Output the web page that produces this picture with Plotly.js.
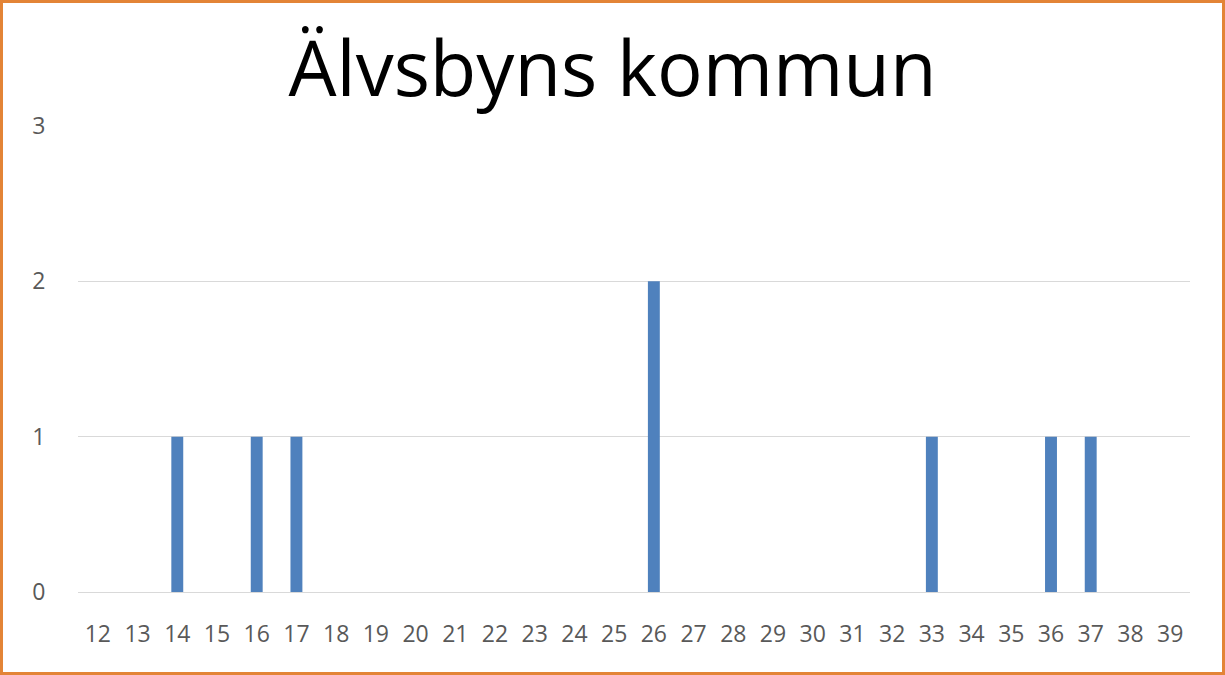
<!DOCTYPE html>
<html><head><meta charset="utf-8">
<script src="https://cdn.plot.ly/plotly-3.0.1.min.js"></script>
<style>
html,body{margin:0;padding:0;background:#fff;}
#wrap{position:relative;width:1225px;height:675px;}
#chart{position:absolute;left:0;top:0;width:1225px;height:675px;}
#frame{position:absolute;left:0;top:0;width:1225px;height:675px;box-sizing:border-box;border:3px solid #E38436;pointer-events:none;}
</style></head>
<body>
<div id="wrap"><div id="chart"></div><div id="frame"></div></div>
<script>
const categories = ["12","13","14","15","16","17","18","19","20","21","22","23","24","25","26","27","28","29","30","31","32","33","34","35","36","37","38","39"];
const values = [0,0,1,0,1,1,0,0,0,0,0,0,0,0,2,0,0,0,0,0,0,1,0,0,1,1,0,0];
const titleText = "Älvsbyns kommun";
const yTicks = [0,1,2,3];

Plotly.newPlot('chart', [{
  type: 'bar', x: categories, y: values,
  marker: {color: '#4F81BD'}, width: 0.3, hoverinfo: 'x+y'
}], {
  width: 1225, height: 675,
  margin: {l: 78, r: 35, t: 126, b: 83},
  paper_bgcolor: '#fff', plot_bgcolor: '#fff',
  title: {text: titleText, font: {family: 'Open Sans', size: 76, color: '#000'}, x: 0.5, xanchor: 'center', xref: 'container', yref: 'container', y: 0.897, yanchor: 'middle'},
  xaxis: {type: 'category', tickfont: {family: 'Open Sans', size: 23, color: '#595959'}, ticks: 'outside', ticklen: 21, tickcolor: 'rgba(0,0,0,0)', showgrid: false, showline: false, zeroline: false},
  yaxis: {range: [0, 3], tickvals: yTicks, tickfont: {family: 'Open Sans', size: 23, color: '#595959'}, ticks: 'outside', ticklen: 27, tickcolor: 'rgba(0,0,0,0)', gridcolor: '#D9D9D9', gridwidth: 1, zeroline: true, zerolinecolor: '#D9D9D9', zerolinewidth: 1, showline: false},
  showlegend: false
}, {displayModeBar: false});
</script>
</body></html>
